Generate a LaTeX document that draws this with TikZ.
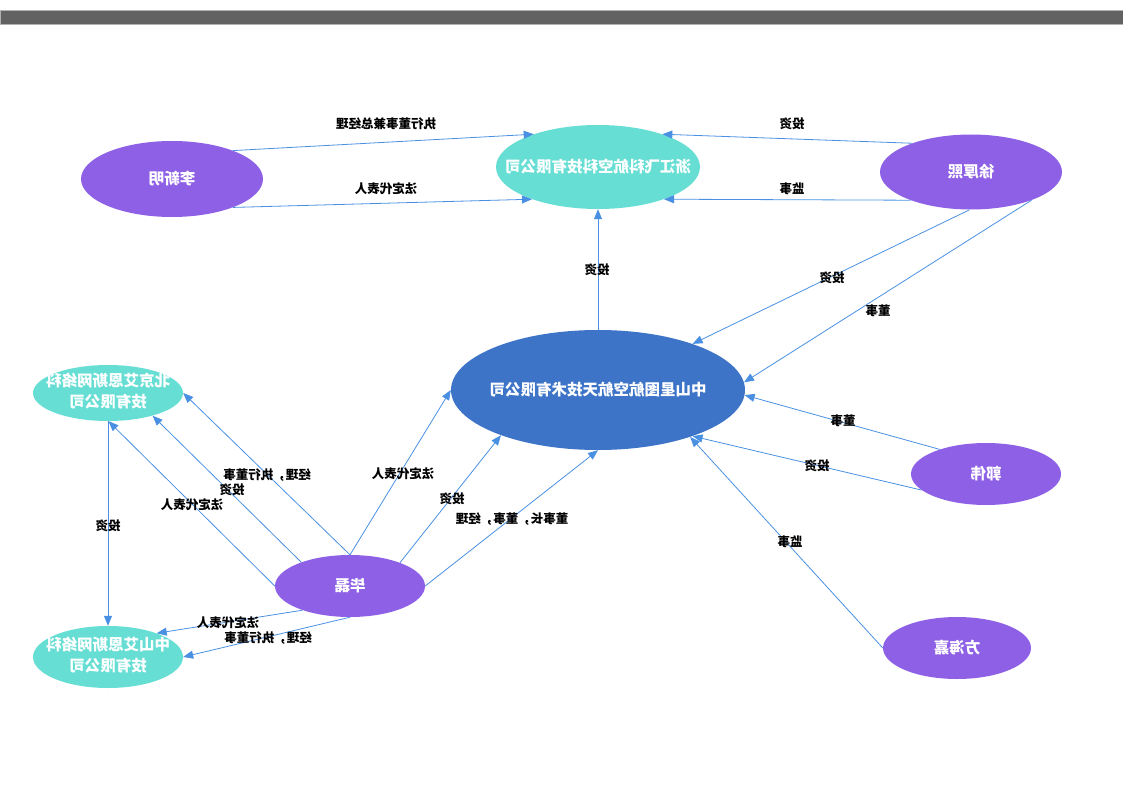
\documentclass[tikz,border=0pt]{standalone}
\usepackage{fontspec}
\usepackage{graphicx}
\setmainfont{Noto Sans CJK SC}
\usetikzlibrary{shapes.geometric,arrows.meta}
\definecolor{purp}{RGB}{142,96,230}
\definecolor{tealc}{RGB}{102,222,212}
\definecolor{bluec}{RGB}{61,116,200}
\definecolor{edgeblue}{RGB}{74,144,226}
\definecolor{barc}{RGB}{98,98,98}
\newcommand\mirtxt[1]{\reflectbox{#1}}
\begin{document}
\begin{tikzpicture}[x=1pt,y=-1pt,
 ell/.style={ellipse,draw=none,inner sep=0pt},
 person/.style={ell,fill=purp},
 firm/.style={ell,fill=tealc},
 core/.style={ell,fill=bluec},
 ntext/.style={text=white,font=\fontsize{15.5}{21}\selectfont\bfseries,align=center,inner sep=0pt},
 lbl/.style={font=\fontsize{12.5}{14}\selectfont\bfseries,inner sep=0pt,text=black},
 conn/.style={draw=edgeblue,line width=0.8pt,-{Triangle[length=10pt,width=8pt]}},
]
\useasboundingbox (0,0) rectangle (1123,794);
\fill[barc,draw=gray!60] (0,10) rectangle (1123,24);

% nodes
\node[person,minimum width=182pt,minimum height=76pt,label={[ntext]center:\mirtxt{李新明}}] (A) at (172,179) {};
\node[firm,minimum width=204pt,minimum height=84pt,label={[ntext]center:\mirtxt{浙江飞科航空科技有限公司}}] (Z) at (598,167) {};
\node[person,minimum width=182pt,minimum height=75pt,label={[ntext]center:\mirtxt{徐厚熙}}] (X) at (971,172) {};
\node[core,minimum width=294pt,minimum height=120pt,label={[ntext]center:\mirtxt{中山星图航空航天技术有限公司}}] (S) at (598,390) {};
\node[firm,minimum width=150pt,minimum height=56pt,label={[ntext]center:\mirtxt{\begin{tabular}{@{}c@{}}北京艾恩斯网络科\\技有限公司\end{tabular}}}] (B) at (108,393) {};
\node[firm,minimum width=150pt,minimum height=62pt,label={[ntext]center:\mirtxt{\begin{tabular}{@{}c@{}}中山艾恩斯网络科\\技有限公司\end{tabular}}}] (C) at (108,657) {};
\node[person,minimum width=150pt,minimum height=62pt,label={[ntext]center:\mirtxt{毕磊}}] (L) at (350,586) {};
\node[person,minimum width=150pt,minimum height=62pt,label={[ntext]center:\mirtxt{郭伟}}] (G) at (986,474) {};
\node[person,minimum width=148pt,minimum height=62pt,label={[ntext]center:\mirtxt{方海嘉}}] (F) at (957,648) {};

% connectors
\draw[conn] (A.25) -- (Z.153) node[lbl] at (386,124) {\mirtxt{执行董事兼总经理}};
\draw[conn] (A.-25) -- (Z.206) node[lbl] at (386,189) {\mirtxt{法定代表人}};
\draw[conn] (X.154) -- (Z.27) node[lbl] at (792,124) {\mirtxt{投资}};
\draw[conn] (X.205) -- (Z.-26) node[lbl] at (792,189) {\mirtxt{监事}};
\draw[conn] (S.90) -- (Z.-90) node[lbl] at (597,270) {\mirtxt{投资}};
\draw[conn] (X.-92) -- (S.26) node[lbl] at (832,278) {\mirtxt{投资}};
\draw[conn] (X.-25) -- (S.3) node[lbl] at (878,311) {\mirtxt{董事}};
\draw[conn] (G.152) -- (S.-2) node[lbl] at (843,421) {\mirtxt{董事}};
\draw[conn] (G.194) -- (S.-26) node[lbl] at (817,466) {\mirtxt{投资}};
\draw[conn] (F.180) -- (S.-27) node[lbl] at (790,542) {\mirtxt{监事}};
\draw[conn] (L.90) -- (S.180) node[lbl] at (403,474) {\mirtxt{法定代表人}};
\draw[conn] (L.25) -- (S.205) node[lbl] at (452,499) {\mirtxt{投资}};
\draw[conn] (L.0) -- (S.-90) node[lbl] at (512,519) {\mirtxt{董事长，董事，经理}};
\draw[conn] (L.90) -- (B.0) node[lbl] at (267,475) {\mirtxt{经理，执行董事}};
\draw[conn] (L.154) -- (B.-27) node[lbl] at (232,490) {\mirtxt{投资}};
\draw[conn] (L.180) -- (B.-89) node[lbl] at (192,505) {\mirtxt{法定代表人}};
\draw[conn] (B.-90) -- (C.90) node[lbl] at (108,526) {\mirtxt{投资}};
\draw[conn] (L.207) -- (C.26) node[lbl] at (228,623) {\mirtxt{法定代表人}};
\draw[conn] (L.-90) -- (C.0) node[lbl] at (268,638) {\mirtxt{经理，执行董事}};
\end{tikzpicture}
\end{document}
